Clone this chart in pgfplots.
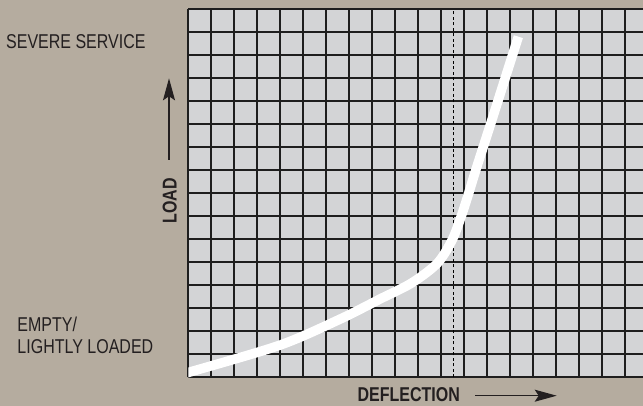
\documentclass[border=0pt]{standalone}
\usepackage{pgfplots}
\pgfplotsset{compat=1.18}
\usetikzlibrary{arrows.meta}
\usepackage{fontspec}
\setmainfont{Liberation Sans}[FakeStretch=0.8]
\definecolor{bgtan}{HTML}{B5AC9F}
\definecolor{gridfill}{HTML}{D3D4D6}
\definecolor{gridline}{HTML}{1E1E1E}
\definecolor{txt}{HTML}{231F20}
\begin{document}
\begin{tikzpicture}
\fill[bgtan] (0,0) rectangle (643bp,406bp);
\begin{axis}[
  at={(188.3bp,28.7bp)}, anchor=origin,
  x=23bp, y=23bp,
  xmin=0, xmax=19.77, ymin=0, ymax=16,
  axis background/.style={fill=gridfill},
  axis line style={draw=none},
  xtick={0,...,19}, ytick={0,...,16},
  xticklabels={}, yticklabels={},
  major tick length=0pt,
  grid=major,
  grid style={gridline, line width=1.8bp},
]
\addplot[black, line width=0.9bp, dash pattern=on 3bp off 2.5bp] coordinates {(11.52,0) (11.52,16)};
\addplot[white, line width=9.5bp, smooth, tension=0.5] coordinates {
(-0.3,0.13) (0.07,0.23) (3.99,1.40) (6.6,2.53) (8.33,3.40) (9.71,4.10)
(10.83,4.96) (11.47,5.97) (11.86,6.98) (12.19,8.0) (12.5,9.01)
(13.2,11.19) (14.35,14.81)
};
\end{axis}
\begin{scope}[txt, font=\fontsize{20bp}{23bp}\selectfont]
\node[anchor=base west, inner sep=0] at (6bp,357.7bp) {SEVERE SERVICE};
\node[anchor=base west, inner sep=0] at (17.3bp,74.3bp) {EMPTY/};
\node[anchor=base west, inner sep=0] at (17.3bp,52bp) {LIGHTLY LOADED};
\node[anchor=base east, inner sep=0, font=\fontsize{20bp}{23bp}\selectfont\bfseries] at (460bp,4.3bp) {DEFLECTION};
\node[anchor=base, inner sep=0, rotate=90, font=\fontsize{20bp}{23bp}\selectfont\bfseries] at (176.7bp,205.2bp) {LOAD};
\draw[line width=1.3bp, -{Stealth[length=22bp,width=12bp,inset=4bp]}] (169bp,246bp) -- (169bp,327.7bp);
\draw[line width=1.3bp, -{Stealth[length=22bp,width=12bp,inset=4bp]}] (475bp,10.3bp) -- (556.7bp,10.3bp);
\end{scope}
\pgfresetboundingbox
\path[use as bounding box] (0,0) rectangle (643bp,406bp);
\end{tikzpicture}
\end{document}
